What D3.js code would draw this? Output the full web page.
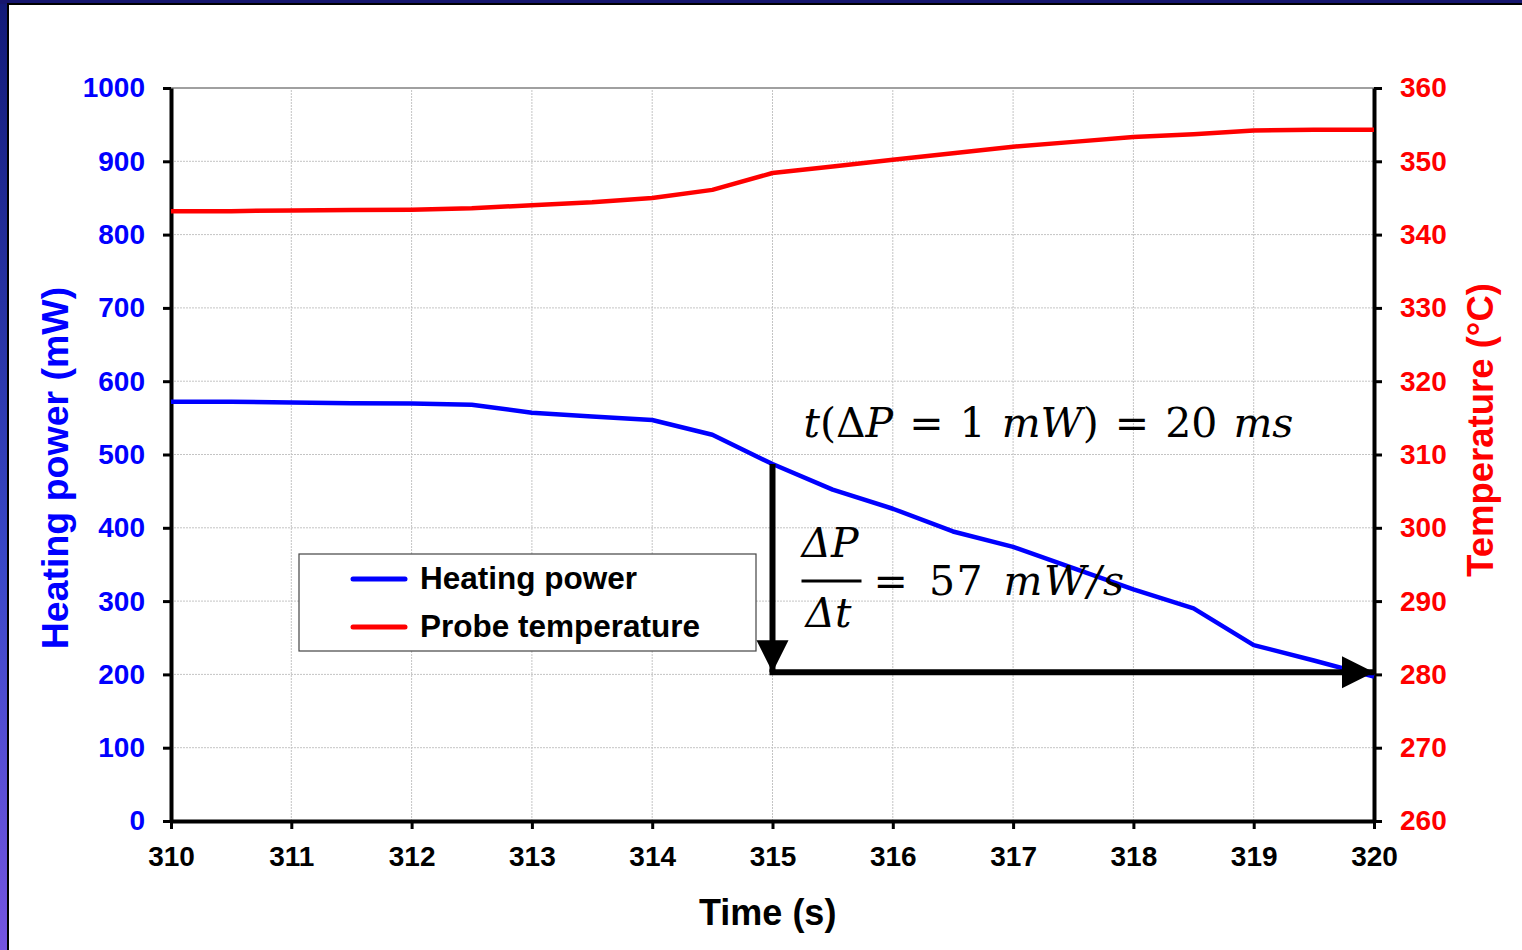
<!DOCTYPE html>
<html>
<head>
<meta charset="utf-8">
<script src="https://cdn.jsdelivr.net/npm/d3@7"></script>
<style>
  html, body { margin: 0; padding: 0; background: #fff; }
  svg { display: block; }
</style>
</head>
<body>
<script>
// time axis (s) and the two measured series
var timeS = [310, 310.5, 311, 311.5, 312, 312.5, 313, 313.5, 314, 314.5, 315,
             315.5, 316, 316.5, 317, 317.5, 318, 318.5, 319, 319.5, 320];
var heatingPower = [572, 572, 571, 570, 569.5, 568, 557, 552, 547, 527, 487,
                    452, 426, 395, 374, 345, 316, 290, 240, 219, 197];
var probeTemp = [343.2, 343.2, 343.3, 343.35, 343.4, 343.6, 344.0, 344.4, 345.0, 346.1, 348.4,
                 349.3, 350.2, 351.1, 352.0, 352.65, 353.3, 353.7, 354.2, 354.3, 354.3];

var xTicks = [310, 311, 312, 313, 314, 315, 316, 317, 318, 319, 320];
var powerTicks = [0, 100, 200, 300, 400, 500, 600, 700, 800, 900, 1000];
var tempTicks = [260, 270, 280, 290, 300, 310, 320, 330, 340, 350, 360];

var legendItems = [
    { label: "Heating power", color: "#0000ff" },
    { label: "Probe temperature", color: "#ff0000" }
];

// slope annotation: drop from the curve at 315 s down to 203 mW, then run to 320 s
var arrowT0 = 315, arrowT1 = 320, arrowP0 = 487, arrowP1 = 203;

var width = 1522, height = 950;
var margin = { left: 171, right: 148, top: 88, bottom: 129 };

var svg = d3.select("body").append("svg")
    .attr("width", width)
    .attr("height", height);

// slide frame
var defs = svg.append("defs");
var grad = defs.append("linearGradient").attr("id", "edge")
    .attr("x1", 0).attr("y1", 0).attr("x2", 0).attr("y2", 1);
grad.append("stop").attr("offset", "0%").attr("stop-color", "#121a78");
grad.append("stop").attr("offset", "60%").attr("stop-color", "#3a48c8");
grad.append("stop").attr("offset", "100%").attr("stop-color", "#7454e0");

svg.append("rect").attr("width", width).attr("height", height).attr("fill", "url(#edge)");
svg.append("rect").attr("x", 0).attr("y", 0).attr("width", width).attr("height", 4).attr("fill", "#16166e");
svg.append("rect")
    .attr("x", 8).attr("y", 4)
    .attr("width", width).attr("height", height)
    .attr("fill", "#fff")
    .attr("stroke", "#000")
    .attr("stroke-width", 2);

var x = d3.scaleLinear().domain([310, 320]).range([margin.left, width - margin.right]);
var yP = d3.scaleLinear().domain([0, 1000]).range([height - margin.bottom, margin.top]);
var yT = d3.scaleLinear().domain([260, 360]).range([height - margin.bottom, margin.top]);

var sans = "'Liberation Sans', Arial, sans-serif";

// grid
var grid = svg.append("g").attr("stroke", "#c4c4c4").attr("stroke-width", 1);
grid.selectAll("line.gx").data(xTicks.slice(1, -1)).join("line")
    .attr("x1", function(d) { return x(d); }).attr("x2", function(d) { return x(d); })
    .attr("y1", yP(0)).attr("y2", yP(1000))
    .attr("stroke-dasharray", "2,1");
grid.selectAll("line.gy").data(powerTicks.slice(1)).join("line")
    .attr("x1", x(310)).attr("x2", x(320))
    .attr("y1", function(d) { return yP(d); }).attr("y2", function(d) { return yP(d); })
    .attr("stroke-dasharray", function(d) { return d === 1000 ? null : "2,1"; })
    .attr("stroke", function(d) { return d === 1000 ? "#a0a0a0" : null; })
    .attr("stroke-width", function(d) { return d === 1000 ? 2 : null; });

// axes
function styleAxis(g, color) {
    g.select(".domain").attr("stroke", "#000").attr("stroke-width", 4);
    g.selectAll(".tick line").attr("stroke", "#000").attr("stroke-width", 3);
    g.selectAll(".tick text")
        .attr("fill", color)
        .style("font-family", sans)
        .style("font-weight", "bold")
        .style("font-size", "28px");
}

svg.append("g")
    .attr("transform", "translate(" + margin.left + ",0)")
    .call(d3.axisLeft(yP).tickValues(powerTicks).tickSize(8).tickSizeOuter(0).tickPadding(18).tickFormat(d3.format("d")))
    .call(styleAxis, "#0000ff");

svg.append("g")
    .attr("transform", "translate(" + (width - margin.right) + ",0)")
    .call(d3.axisRight(yT).tickValues(tempTicks).tickSize(8).tickSizeOuter(0).tickPadding(18).tickFormat(d3.format("d")))
    .call(styleAxis, "#ff0000");

svg.append("g")
    .attr("transform", "translate(0," + (height - margin.bottom) + ")")
    .call(d3.axisBottom(x).tickValues(xTicks).tickSize(8).tickSizeOuter(0).tickPadding(17).tickFormat(d3.format("d")))
    .call(styleAxis, "#000");

// axis titles
svg.append("text")
    .attr("transform", "translate(68,468) rotate(-90)")
    .attr("text-anchor", "middle")
    .attr("fill", "#0000ff")
    .style("font-family", sans).style("font-weight", "bold").style("font-size", "37.5px")
    .text("Heating power (mW)");

svg.append("text")
    .attr("transform", "translate(1493,430) rotate(-90)")
    .attr("text-anchor", "middle")
    .attr("fill", "#ff0000")
    .style("font-family", sans).style("font-weight", "bold").style("font-size", "36.5px")
    .text("Temperature (°C)");

svg.append("text")
    .attr("x", x(314.96)).attr("y", 925)
    .attr("text-anchor", "middle")
    .attr("fill", "#000")
    .style("font-family", sans).style("font-weight", "bold").style("font-size", "36px")
    .text("Time (s)");

// series
var powerLine = d3.line()
    .x(function(d, i) { return x(timeS[i]); })
    .y(function(d) { return yP(d); });
var tempLine = d3.line()
    .x(function(d, i) { return x(timeS[i]); })
    .y(function(d) { return yT(d); });

svg.append("path").datum(probeTemp)
    .attr("d", tempLine)
    .attr("fill", "none").attr("stroke", "#ff0000").attr("stroke-width", 4.5)
    .attr("stroke-linejoin", "round");

svg.append("path").datum(heatingPower)
    .attr("d", powerLine)
    .attr("fill", "none").attr("stroke", "#0000ff").attr("stroke-width", 4.5)
    .attr("stroke-linejoin", "round");

// legend
var legend = svg.append("g").attr("transform", "translate(299,554)");
legend.append("rect")
    .attr("width", 457).attr("height", 97)
    .attr("fill", "#fff").attr("stroke", "#444").attr("stroke-width", 1.2);
var li = legend.selectAll("g.item").data(legendItems).join("g")
    .attr("transform", function(d, i) { return "translate(0," + (25 + i * 48) + ")"; });
li.append("line")
    .attr("x1", 54).attr("x2", 106)
    .attr("stroke", function(d) { return d.color; })
    .attr("stroke-width", 5).attr("stroke-linecap", "round");
li.append("text")
    .attr("x", 121).attr("y", 10)
    .attr("fill", "#000")
    .style("font-family", sans).style("font-weight", "bold").style("font-size", "31.5px")
    .text(function(d) { return d.label; });

// arrows
defs.append("marker").attr("id", "head")
    .attr("viewBox", "0 0 10 10").attr("refX", 10).attr("refY", 5)
    .attr("markerUnits", "userSpaceOnUse")
    .attr("markerWidth", 32).attr("markerHeight", 34)
    .attr("orient", "auto")
    .append("path").attr("d", "M0,0L10,5L0,10Z").attr("fill", "#000");

svg.append("line")
    .attr("x1", x(arrowT0)).attr("y1", yP(arrowP0))
    .attr("x2", x(arrowT0)).attr("y2", yP(arrowP1))
    .attr("stroke", "#000").attr("stroke-width", 6)
    .attr("marker-end", "url(#head)");
svg.append("line")
    .attr("x1", x(arrowT0) - 3).attr("y1", yP(arrowP1))
    .attr("x2", x(arrowT1)).attr("y2", yP(arrowP1))
    .attr("stroke", "#000").attr("stroke-width", 6)
    .attr("marker-end", "url(#head)");

// equations
var serif = "'DejaVu Serif', 'Liberation Serif', serif";
function mathText(g, parts, spacing) {
    var t = g.append("text")
        .attr("fill", "#000")
        .style("font-family", serif)
        .style("font-size", "41px")
        .style("word-spacing", (spacing || 3) + "px")
        .attr("xml:space", "preserve");
    parts.forEach(function(p) {
        t.append("tspan")
            .style("font-style", p[1] ? "italic" : "normal")
            .text(p[0]);
    });
    return t;
}

mathText(svg.append("g").attr("transform", "translate(" + (x(arrowT0) + 31) + ",437)"), [
    ["t", 1], ["(\u0394", 0], ["P", 1], [" = 1 ", 0], ["mW", 1], [") = 20 ", 0], ["ms", 1]
], 3);

var frac = svg.append("g").attr("transform", "translate(" + (x(arrowT0) + 29) + ",0)");
mathText(frac.append("g").attr("transform", "translate(0,557)"), [["\u0394P", 1]]);
mathText(frac.append("g").attr("transform", "translate(4,627)"), [["\u0394t", 1]]);
frac.append("line").attr("x1", 0).attr("x2", 60).attr("y1", 581).attr("y2", 581)
    .attr("stroke", "#000").attr("stroke-width", 3);
mathText(frac.append("g").attr("transform", "translate(72,595)").style("letter-spacing", "1.5px"), [
    ["= 57 ", 0], ["mW/s", 1]
], 5);
</script>
</body>
</html>
